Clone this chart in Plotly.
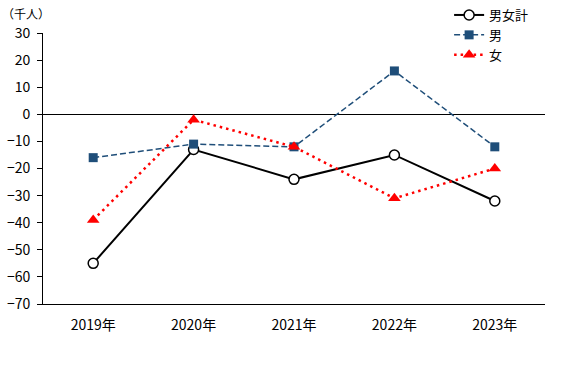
import plotly.graph_objects as go

years = ["2019年", "2020年", "2021年", "2022年", "2023年"]
total = [-55, -13, -24, -15, -32]
male = [-16, -11, -12, 16, -12]
female = [-39, -2, -12, -31, -20]
y_ticks = [30, 20, 10, 0, -10, -20, -30, -40, -50, -60, -70]

FONT = "Noto Sans CJK JP"

fig = go.Figure()
fig.add_trace(go.Scatter(
    x=years, y=total, name="男女計", mode="lines+markers",
    line=dict(color="black", width=2),
    marker=dict(symbol="circle", size=10, color="white",
                line=dict(color="black", width=1.5)),
))
fig.add_trace(go.Scatter(
    x=years, y=male, name="男", mode="lines+markers",
    line=dict(color="#1F4E79", width=1.5, dash="6px,3px"),
    marker=dict(symbol="square", size=9, color="#1F4E79"),
))
fig.add_trace(go.Scatter(
    x=years, y=female, name="女", mode="lines+markers",
    line=dict(color="#FF0000", width=2.5, dash="2.5px,4px"),
    marker=dict(symbol="triangle-up", size=11, color="#FF0000"),
))

fig.update_layout(
    width=581, height=365,
    margin=dict(l=43, r=36, t=33, b=61, autoexpand=False),
    paper_bgcolor="white", plot_bgcolor="white",
    font=dict(family=FONT, size=14, color="black"),
    showlegend=True,
    legend=dict(xref="container", yref="container",
                x=0.773, y=1.0, xanchor="left", yanchor="top",
                bgcolor="rgba(0,0,0,0)", tracegroupgap=0,
                font=dict(family=FONT, size=13), itemwidth=30),
    xaxis=dict(showline=True, linecolor="black", linewidth=1,
               showgrid=False, ticks="", zeroline=False,
               ticklabelstandoff=8,
               range=[-0.5, 4.5], tickfont=dict(size=14)),
    yaxis=dict(range=[-70, 30], tickvals=y_ticks, showgrid=False,
               showline=True, linecolor="black", linewidth=1,
               ticks="outside", ticklen=5, tickcolor="black",
               ticklabelstandoff=4,
               zeroline=True, zerolinecolor="black", zerolinewidth=1,
               tickfont=dict(size=14)),
    annotations=[dict(text="（千人）", x=-43 / 502, y=1, xref="paper", yref="paper",
                      xanchor="left", yanchor="bottom", yshift=9,
                      showarrow=False, font=dict(size=12))],
)

fig.write_html("out.html", config={"displayModeBar": False},
               post_script="document.body.style.margin='0';")
